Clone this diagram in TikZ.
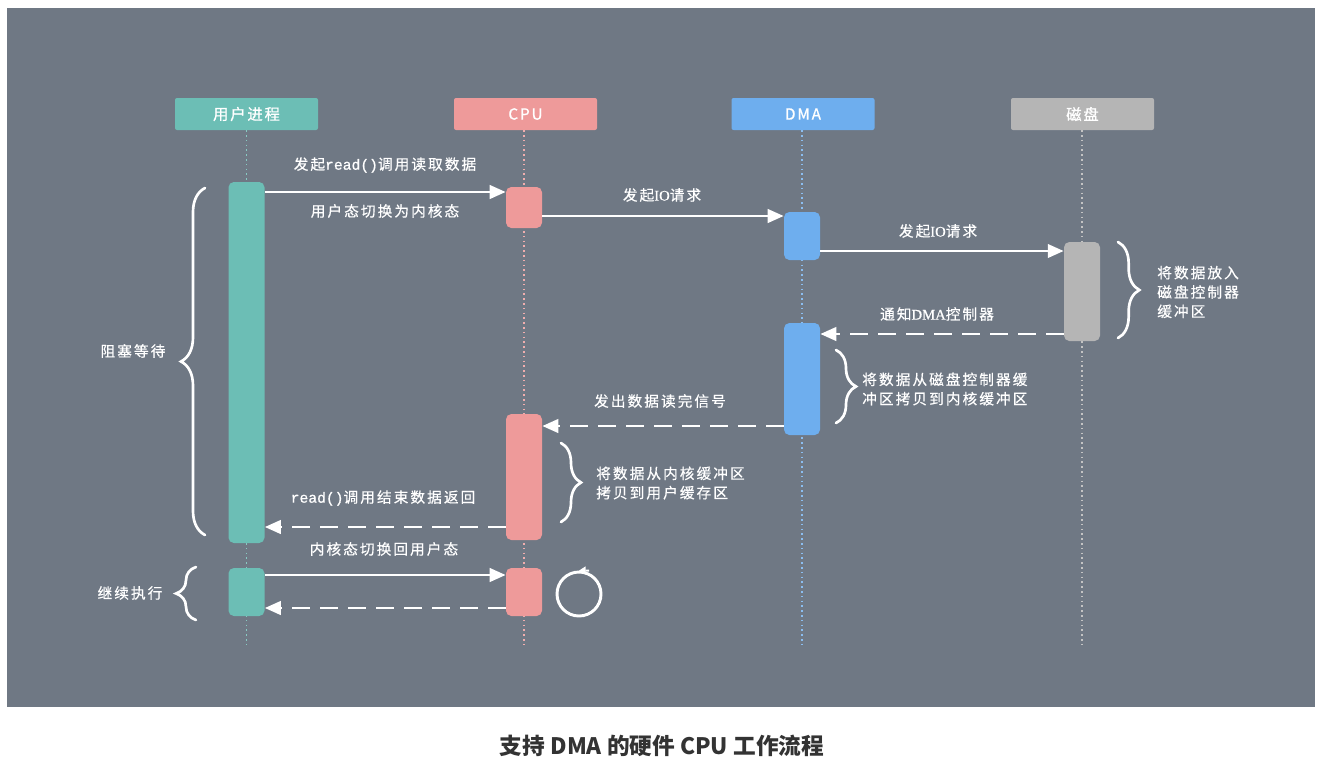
\documentclass[tikz,border=0pt]{standalone}
\usepackage{fontspec}
\setmainfont{Noto Sans CJK SC}
\newfontfamily\lblfont[LetterSpace=14,FakeBold=0.5]{Noto Sans CJK SC}
\newfontfamily\headfont[LetterSpace=12,FakeBold=1.0]{Noto Sans CJK SC}
\newfontfamily\monofam[FakeBold=0.8]{Liberation Mono}
\newfontfamily\seriffam[FakeBold=0.5]{Liberation Serif}
\usetikzlibrary{arrows.meta,decorations.pathreplacing}
\definecolor{bgc}{HTML}{6F7884}
\definecolor{tealc}{HTML}{6CBEB5}
\definecolor{pinkc}{HTML}{EE9A9A}
\definecolor{bluec}{HTML}{6EAEEE}
\definecolor{grayc}{HTML}{B5B5B5}
\definecolor{capc}{HTML}{333333}
\tikzset{
  head/.style={fill=#1, draw=none, rounded corners=1.5pt, minimum width=107.25pt, minimum height=24pt, text=white, font=\headfont\fontsize{11.5}{13}\selectfont, inner sep=0pt},
  act/.style={fill=#1, draw=none, rounded corners=4pt, minimum width=27pt, inner sep=0pt},
  life/.style={draw=#1, line width=1pt, dash pattern=on 1.2pt off 2.4pt},
  msg/.style={draw=white, line width=2.2pt, -{Triangle[length=12pt,width=10pt]}},
  reply/.style={msg, dash pattern=on 13pt off 8pt},
  lbl/.style={text=white, font=\lblfont\fontsize{11}{12}\selectfont, inner sep=0pt},
  note/.style={lbl, align=left, anchor=west, font=\lblfont\fontsize{11}{14.5}\selectfont},
  brc/.style={draw=white, line width=2pt, line cap=round, decorate, decoration={brace, amplitude=#1}},
}
\begin{document}
\begin{tikzpicture}[x=0.75pt,y=-0.75pt]
\useasboundingbox (0,0) rectangle (1326,760);
\fill[white] (0,0) rectangle (1326,760);
\fill[bgc] (7,8) rectangle (1315,707);

% headers
\node[head=tealc] (hu) at (246.5,114) {用户进程};
\node[head=pinkc] (hc) at (525.5,114) {CPU};
\node[head=bluec] (hd) at (803,114) {DMA};
\node[head=grayc] (hk) at (1082.5,114) {磁盘};

% lifelines
\coordinate (eu) at (246.5,645);
\coordinate (ec) at (524,645);
\coordinate (ed) at (802,645);
\coordinate (ek) at (1082,645);
\draw[life=tealc!80!white] (hu.south) -- (eu);
\draw[life=pinkc!80!white] (hc.south -| ec) -- (ec);
\draw[life=bluec!80!white] (hd.south -| ed) -- (ed);
\draw[life=grayc!80!white] (hk.south -| ek) -- (ek);

% activations
\node[act=tealc, minimum height=270.75pt] (u1) at (246.5,362.5) {};
\node[act=pinkc, minimum height=30.75pt] (c1) at (524,207.5) {};
\node[act=bluec, minimum height=36pt] (d1) at (802,236) {};
\node[act=grayc, minimum height=74.25pt] (k1) at (1082,291.5) {};
\node[act=bluec, minimum height=84pt] (d2) at (802,379) {};
\node[act=pinkc, minimum height=94.5pt] (c2) at (524,477) {};
\node[act=tealc, minimum height=36pt] (u2) at (246.5,592) {};
\node[act=pinkc, minimum height=36pt] (c3) at (524,592) {};

% messages
\draw[msg] (u1.east |- 0,192) -- (c1.west |- 0,192);
\draw[msg] (c1.east |- 0,216) -- (d1.west |- 0,216);
\draw[msg] (d1.east |- 0,251) -- (k1.west |- 0,251);
\draw[reply] (k1.west |- 0,334) -- (d2.east |- 0,334);
\draw[reply] (d2.west |- 0,426) -- (c2.east |- 0,426);
\draw[reply] (c2.west |- 0,527) -- (u1.east |- 0,527);
\draw[msg] (u2.east |- 0,575) -- (c3.west |- 0,575);
\draw[reply] (c3.west |- 0,608) -- (u2.east |- 0,608);

% message labels
\node[lbl] (l1) at (385,165) {发起{\monofam read()}调用读取数据};
\node[lbl] (l2) at (385,211) {用户态切换为内核态};
\node[lbl] (l3) at (662,195) {发起{\seriffam IO}请求};
\node[lbl] (l4) at (938,231) {发起{\seriffam IO}请求};
\node[lbl] (l5) at (937,314) {通知{\seriffam DMA}控制器};
\node[lbl] (l6) at (660,401) {发出数据读完信号};
\node[lbl] (l7) at (383,498) {{\monofam read()}调用结束数据返回};
\node[lbl] (l8) at (384,549) {内核态切换回用户态};

% braces
\draw[brc=18pt] (205,535) -- (205,188);
\node[lbl] (bw) at (133,351) {阻塞等待};
\draw[brc=15pt] (196,620) -- (196,567);
\node[lbl] (jx) at (130,593) {继续执行};
\draw[brc=16pt] (1118,242) -- (1118,338);
\node[note] (nk) at (1157,292) {将数据放入\\磁盘控制器\\缓冲区};
\draw[brc=15pt] (836,350) -- (836,423);
\node[note] (nd) at (862,389) {将数据从磁盘控制器缓\\冲区拷贝到内核缓冲区};
\draw[brc=15pt] (561,443) -- (561,522);
\node[note] (nc) at (596,483) {将数据从内核缓冲区\\拷贝到用户缓存区};

% loop icon
\node[draw=white, line width=2.2pt, circle, minimum size=33pt, inner sep=0pt] (loop) at (579,594) {};
\draw[white, line width=1.5pt, -{Triangle[length=5pt,width=6pt]}] (589,570.5) -- (loop.north);

% caption
\node[text=capc, font=\fontsize{17}{19}\selectfont\bfseries] (cap) at (662,746) {支持 DMA 的硬件 CPU 工作流程};
\end{tikzpicture}
\end{document}
